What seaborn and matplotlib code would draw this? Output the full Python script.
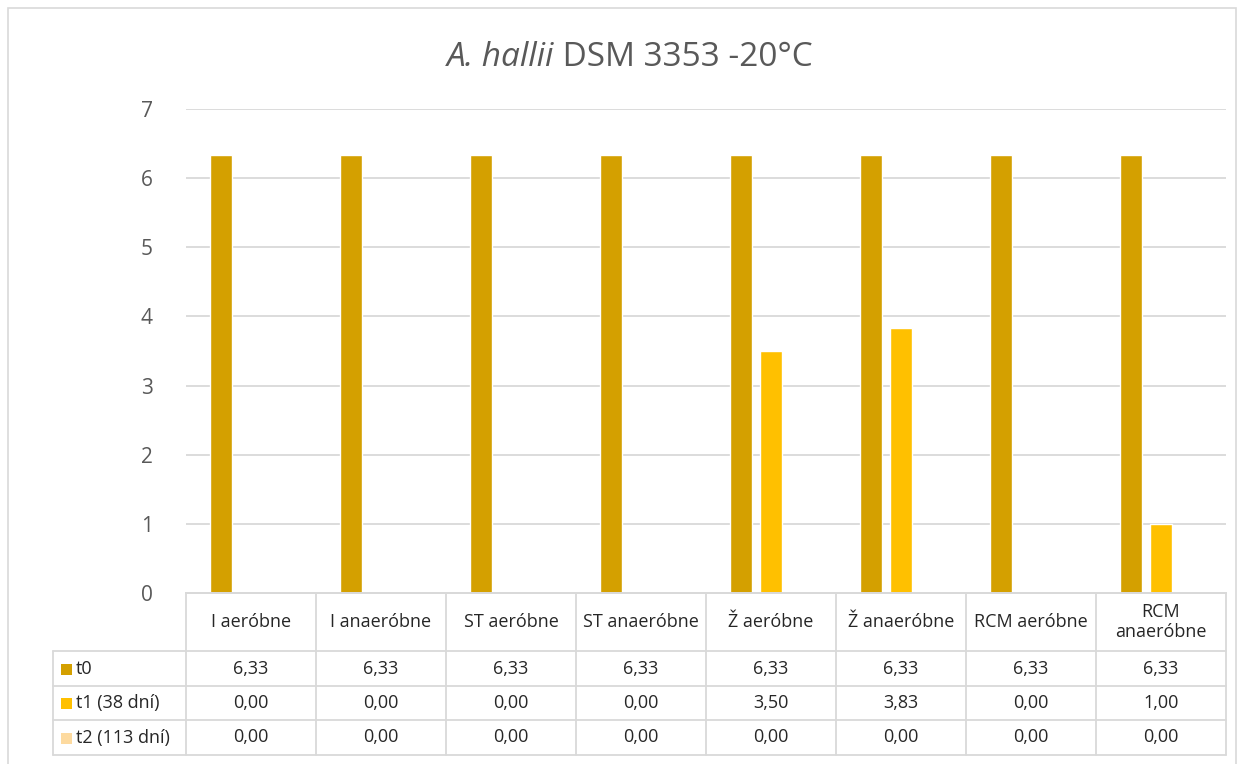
import textwrap
import numpy as np
import pandas as pd
import matplotlib
matplotlib.use("Agg")
import matplotlib.pyplot as plt
from matplotlib.lines import Line2D
from matplotlib.patches import Rectangle
import seaborn as sns

categories = ["I aeróbne", "I anaeróbne", "ST aeróbne", "ST anaeróbne",
              "Ž aeróbne", "Ž anaeróbne", "RCM aeróbne", "RCM anaeróbne"]
series_names = ["t0", "t1 (38 dní)", "t2 (113 dní)"]
t0 = [6.33, 6.33, 6.33, 6.33, 6.33, 6.33, 6.33, 6.33]
t1 = [0.00, 0.00, 0.00, 0.00, 3.50, 3.83, 0.00, 1.00]
t2 = [0.00, 0.00, 0.00, 0.00, 0.00, 0.00, 0.00, 0.00]
colors = ["#D4A000", "#FFC000", "#FDDA9F"]
yticks = [0, 1, 2, 3, 4, 5, 6, 7]

sns.set_theme(style="white")
plt.rcParams['font.family'] = ['Open Sans', 'DejaVu Sans']

W, H = 1244, 764
fig = plt.figure(figsize=(W / 100, H / 100), dpi=100)

def fx(px):
    return px / W

def fy(py):
    return 1 - py / H

# plot area
L, R, T, B = 186, 1226, 109, 593
ax = fig.add_axes([fx(L), fy(B), fx(R) - fx(L), fy(T) - fy(B)])

df = pd.DataFrame({
    "cat": np.repeat(categories, 3),
    "series": series_names * len(categories),
    "value": np.ravel(np.column_stack([t0, t1, t2])),
})
sns.barplot(data=df, x="cat", y="value", hue="series", order=categories,
            hue_order=series_names, palette=colors, width=0.692, gap=0.267,
            legend=False, ax=ax, saturation=1, errorbar=None)

ax.set_ylim(0, 7)
ax.set_xlim(-0.5, len(categories) - 0.5)
ax.set_yticks(yticks)
ax.set_yticklabels([str(t) for t in yticks], color="#595959", fontsize=15)
ax.tick_params(axis="y", length=0, pad=24)
ax.set_xticks([])
ax.set_xlabel("")
ax.set_ylabel("")
ax.yaxis.grid(True, color="#d9d9d9", linewidth=1.3)
ax.set_axisbelow(True)
for s in ["left", "right", "top"]:
    ax.spines[s].set_visible(False)
ax.spines["bottom"].set_color("#d9d9d9")
ax.spines["bottom"].set_linewidth(1.3)

# outer frame
fig.add_artist(Rectangle((fx(8), fy(790)), fx(1236) - fx(8), fy(8) - fy(790),
                         transform=fig.transFigure, fill=False,
                         edgecolor="#d9d9d9", linewidth=1.2))

# title
tc = "#595959"
t_a = fig.text(0, fy(58), "A. hallii", fontsize=24, style="italic", color=tc,
               va="center", ha="left")
t_b = fig.text(0, fy(58), " DSM 3353 -20°C", fontsize=24, color=tc,
               va="center", ha="left")
fig.canvas.draw()
r = fig.canvas.get_renderer()
wa = t_a.get_window_extent(r).width
wb = t_b.get_window_extent(r).width
x0 = 630 - (wa + wb) / 2
t_a.set_x(fx(x0))
t_b.set_x(fx(x0 + wa))

# data table
lc = "#d9d9d9"
lw = 1.3
col_w = (R - L) / len(categories)
row_y = [593, 651, 686, 720, 755]
lab_left = 53

def hline(x1, x2, y):
    fig.add_artist(Line2D([fx(x1), fx(x2)], [fy(y), fy(y)], color=lc, lw=lw,
                          transform=fig.transFigure))

def vline(x, y1, y2):
    fig.add_artist(Line2D([fx(x), fx(x)], [fy(y1), fy(y2)], color=lc, lw=lw,
                          transform=fig.transFigure))

hline(L, R, row_y[0])
for y in row_y[1:]:
    hline(lab_left, R, y)
for i in range(len(categories) + 1):
    vline(L + i * col_w, row_y[0], row_y[-1])
vline(lab_left, row_y[1], row_y[-1])

txt_c = "#262626"
fs = 13
for i, c in enumerate(categories):
    cx = L + (i + 0.5) * col_w
    fig.text(fx(cx), fy((row_y[0] + row_y[1]) / 2), textwrap.fill(c, 12),
             ha="center", va="center", fontsize=fs, color=txt_c,
             linespacing=1.2)

for j, (name, vals, col) in enumerate(zip(series_names, [t0, t1, t2], colors)):
    cy = (row_y[j + 1] + row_y[j + 2]) / 2
    fig.add_artist(Rectangle((fx(61), fy(cy + 6)), fx(11), fy(0) - fy(11),
                             transform=fig.transFigure, facecolor=col,
                             edgecolor="none"))
    fig.text(fx(76), fy(cy), name, ha="left", va="center", fontsize=fs,
             color=txt_c)
    for i, v in enumerate(vals):
        cx = L + (i + 0.5) * col_w
        fig.text(fx(cx), fy(cy), f"{v:.2f}".replace(".", ","), ha="center",
                 va="center", fontsize=fs, color=txt_c)

fig.savefig("out.png", dpi=100, facecolor="white")
